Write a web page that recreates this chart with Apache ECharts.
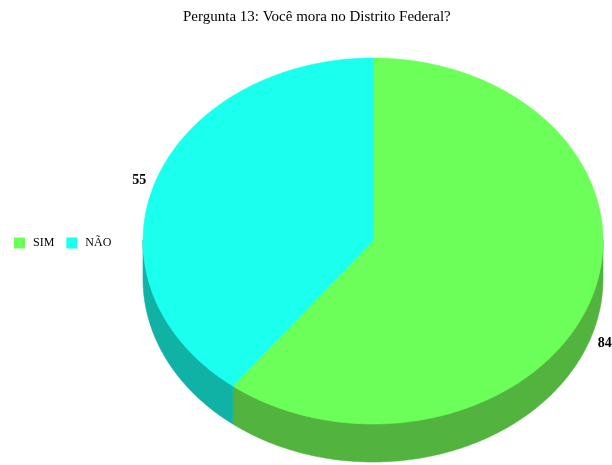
<!DOCTYPE html>
<html>
<head>
<meta charset="utf-8">
<script src="https://cdn.jsdelivr.net/npm/echarts@6/dist/echarts.min.js"></script>
<style>
  html, body { margin: 0; padding: 0; background: #fff; }
  #chart { width: 612px; height: 465px; }
</style>
</head>
<body>
<div id="chart"></div>
<script>
// Answers to question 13
const categories = ['SIM', 'NÃO'];
const values = [84, 55];
const topColors = ['#6cff5a', '#1affee'];
const sideColors = ['#52b33f', '#10b2a6'];

// Geometry of the tilted pie
const CX = 373, CY = 241, RX = 230, RY = 183, DEPTH = 38;
const FONT = '"Liberation Serif", "DejaVu Serif", serif';

// angle measured clockwise from 12 o'clock
function pt(a, dy) {
  return [CX + RX * Math.sin(a), CY - RY * Math.cos(a) + (dy || 0)];
}
function arc(a0, a1, dy) {
  const pts = [];
  const n = Math.max(2, Math.ceil(Math.abs(a1 - a0) / (Math.PI / 360)));
  for (let k = 0; k <= n; k++) pts.push(pt(a0 + (a1 - a0) * k / n, dy));
  return pts;
}

function makeRender(idx) {
  return function (params, api) {
    const total = values.reduce((s, v) => s + v, 0);
    let before = 0;
    for (let j = 0; j < idx; j++) before += values[j];
    const v = api.value(0);
    const a0 = before / total * 2 * Math.PI;
    const a1 = (before + v) / total * 2 * Math.PI;
    const children = [];

    // outer wall, only on the front half of the ellipse
    const s = Math.max(a0, Math.PI / 2), e = Math.min(a1, 3 * Math.PI / 2);
    if (e > s) {
      const top = arc(s, e, -1);
      const bottom = arc(e, s, DEPTH);
      children.push({
        type: 'polygon',
        z2: 1,
        shape: { points: top.concat(bottom) },
        style: { fill: sideColors[idx], stroke: sideColors[idx], lineWidth: 0.6 }
      });
    }

    // top face
    children.push({
      type: 'polygon',
      z2: 10,
      shape: { points: [[CX, CY]].concat(arc(a0, a1, 0)) },
      style: { fill: topColors[idx], stroke: topColors[idx], lineWidth: 0.6 }
    });

    // value label beside the slice
    const mid = (a0 + a1) / 2;
    const p = pt(mid, 0);
    const right = Math.sin(mid) >= 0;
    const front = Math.cos(mid) < 0;
    children.push({
      type: 'text',
      z2: 20,
      x: p[0] + (right ? 7 : -9),
      y: p[1] + (front ? DEPTH + 5 : -2),
      style: {
        text: String(v),
        font: 'bold 14px ' + FONT,
        fill: '#000',
        align: right ? 'left' : 'right',
        verticalAlign: 'middle'
      }
    });

    return { type: 'group', children: children };
  };
}

const chart = echarts.init(document.getElementById('chart'), null, { renderer: 'canvas' });

chart.setOption({
  backgroundColor: '#ffffff',
  animation: false,
  title: {
    text: 'Pergunta 13: Você mora no Distrito Federal?',
    left: 178,
    top: 5,
    textStyle: { fontFamily: FONT, fontSize: 15, fontWeight: 'normal', color: '#000' }
  },
  legend: {
    orient: 'horizontal',
    left: 14,
    top: 237,
    padding: 0,
    itemWidth: 11,
    itemHeight: 11,
    itemGap: 12,
    icon: 'rect',
    data: categories,
    textStyle: { fontFamily: FONT, fontSize: 12, color: '#000', padding: [3, 0, 0, 3] }
  },
  series: categories.map((name, i) => ({
    type: 'custom',
    name: name,
    coordinateSystem: 'none',
    color: topColors[i],
    silent: true,
    data: [[values[i]]],
    renderItem: makeRender(i)
  }))
});
</script>
</body>
</html>
